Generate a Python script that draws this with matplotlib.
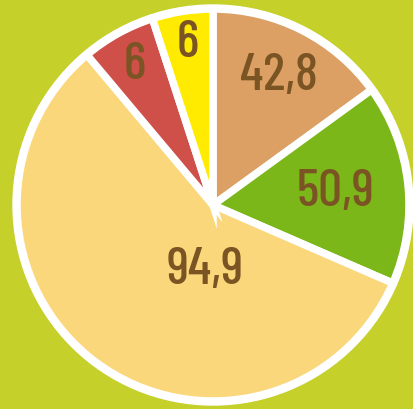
import numpy as np
import matplotlib
matplotlib.use("Agg")
import matplotlib.pyplot as plt
from matplotlib.patches import Circle

# slice labels and the share of the circle each slice takes (degrees)
labels = ["42,8", "50,9", "94,9", "6", "6"]
sizes = [54, 59.5, 206.5, 22, 18]
colors = ["#dca064", "#7cb719", "#fbd77c", "#cf4f49", "#ffeb00"]

# where each label sits inside its slice
label_r = [0.74, 0.63, 0.33, 0.82, 0.84]
label_shift = [0, 0, 30, 0, 0]

bg = "#c5d02a"
brown = "#7b5424"

fig = plt.figure(figsize=(4.14, 4.10), dpi=100)
fig.patch.set_facecolor(bg)
ax = fig.add_axes([0, 0, 1, 1])
ax.set_facecolor(bg)

cx, cy = 213, 204
R = 196

ax.add_patch(Circle((cx, cy), 200, color="white", zorder=1))

wedges, _ = ax.pie(sizes, colors=colors, startangle=90, counterclock=False,
                   radius=R, center=(cx, cy), frame=True,
                   wedgeprops=dict(edgecolor="white", linewidth=5.4))
for w in wedges:
    w.set_zorder(2)

for w, lab, r, sh in zip(wedges, labels, label_r, label_shift):
    ang = np.deg2rad((w.theta1 + w.theta2) / 2 + sh)
    ax.text(cx + r * R * np.cos(ang), cy + r * R * np.sin(ang), lab,
            ha="center", va="center", color=brown, fontsize=38,
            family="Barlow Condensed", weight=500, zorder=3)

ax.set_xlim(0, 414)
ax.set_ylim(0, 410)
ax.set_aspect("equal")
ax.axis("off")

fig.savefig("out.png", dpi=100, facecolor=bg)
